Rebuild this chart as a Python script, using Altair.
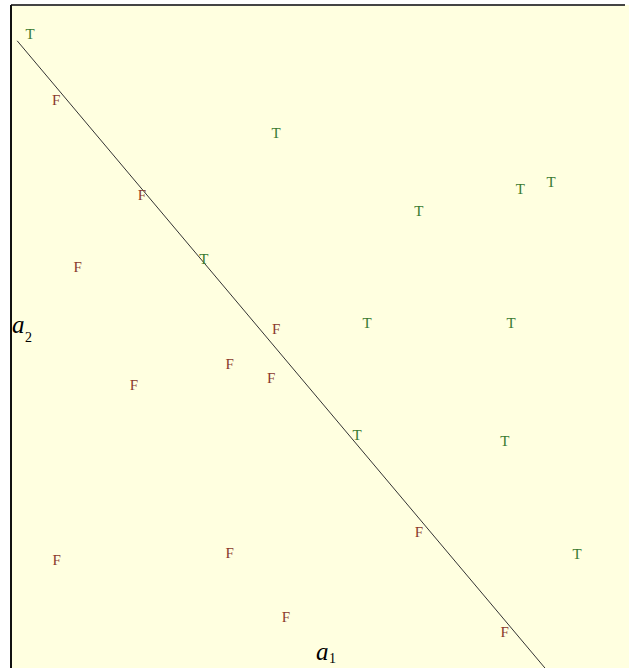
import altair as alt
import pandas as pd

# Class "T" samples (a1, a2)
t_a1 = [0.31, 4.29, 6.60, 8.24, 8.74, 3.12, 5.76, 8.09, 5.60, 7.99, 9.16]
t_a2 = [9.56, 8.07, 6.89, 7.22, 7.33, 6.17, 5.20, 5.20, 3.51, 3.42, 1.72]

# Class "F" samples (a1, a2)
f_a1 = [0.73, 2.12, 1.08, 4.29, 3.54, 4.21, 1.99, 6.60, 0.74, 3.54, 4.45, 7.99]
f_a2 = [8.57, 7.13, 6.05, 5.11, 4.59, 4.37, 4.27, 2.05, 1.63, 1.73, 0.77, 0.54]

# Separating line end points
line_a1 = [0.10, 8.64]
line_a2 = [9.46, 0.00]

W, H = 618, 663

points = pd.DataFrame({
    "a1": t_a1 + f_a1,
    "a2": t_a2 + f_a2,
    "cls": ["T"] * len(t_a1) + ["F"] * len(f_a1),
})
line_df = pd.DataFrame({"a1": line_a1, "a2": line_a2})

xs = alt.Scale(domain=[0, 10], nice=False, zero=False)
ys = alt.Scale(domain=[0, 10], nice=False, zero=False)

base = alt.Chart(points)

labels = base.mark_text(font="Liberation Serif", fontSize=15).encode(
    x=alt.X("a1:Q", scale=xs, axis=None),
    y=alt.Y("a2:Q", scale=ys, axis=None),
    text="cls:N",
    color=alt.Color("cls:N", scale=alt.Scale(domain=["T", "F"], range=["#3a7a30", "#8a3a2c"]), legend=None),
)

boundary = alt.Chart(line_df).mark_line(color="#333333", strokeWidth=1).encode(
    x=alt.X("a1:Q", scale=xs, axis=None),
    y=alt.Y("a2:Q", scale=ys, axis=None),
)

frame = alt.Chart(pd.DataFrame({"k": [0]}))
top_edge = frame.mark_rule(color="#444444", strokeWidth=2).encode(
    x=alt.value(0), x2=alt.value(W - 4), y=alt.value(0)
)
left_edge = frame.mark_rule(color="#111111", strokeWidth=2).encode(
    x=alt.value(0), y=alt.value(0), y2=alt.value(H)
)

def axis_name(letter, sub, x, y, dy):
    main = frame.mark_text(font="Liberation Serif", fontStyle="italic", fontSize=25,
                           align="left", baseline="alphabetic", color="#000000").encode(
        x=alt.value(x), y=alt.value(y), text=alt.value(letter))
    small = frame.mark_text(font="Liberation Serif", fontSize=14,
                            align="left", baseline="alphabetic", color="#000000").encode(
        x=alt.value(x + 13), y=alt.value(y + dy), text=alt.value(sub))
    return main + small

a1_name = axis_name("a", "1", 305, 655, 3)
a2_name = axis_name("a", "2", 1, 328, 9)

chart = alt.layer(
    boundary, labels, top_edge, left_edge, a1_name, a2_name
).properties(
    width=W,
    height=H,
    autosize=alt.AutoSizeParams(type="none"),
    padding={"left": 11, "top": 5, "right": 0, "bottom": 0},
    background="#ffffff",
).configure_view(
    fill="#ffffe0",
    stroke=None,
)

chart.save("out.html", embed_options={"renderer": "svg", "actions": False})
